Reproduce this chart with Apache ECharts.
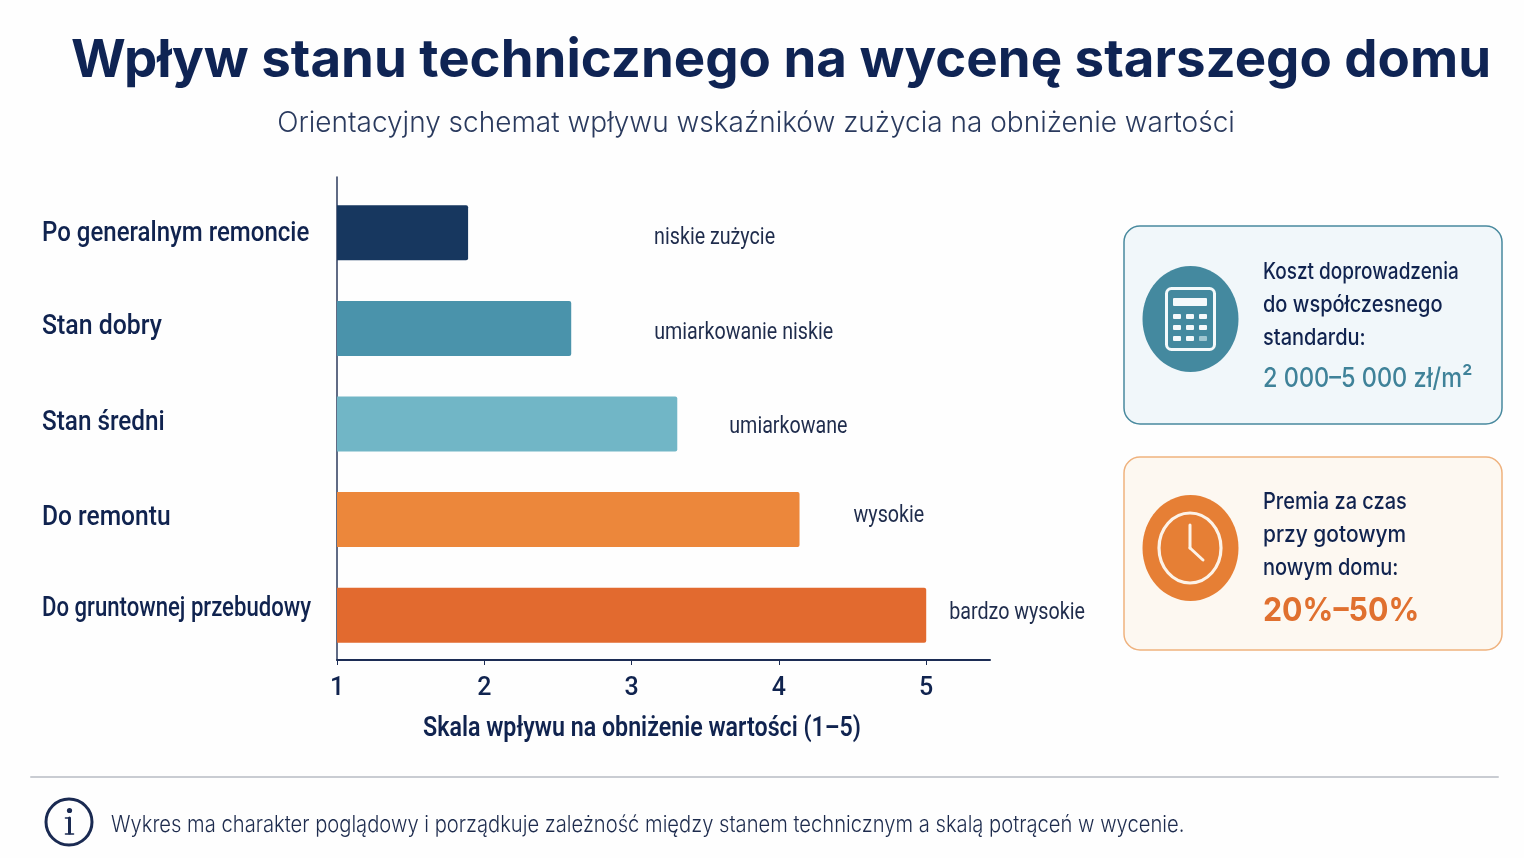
<!DOCTYPE html>
<html lang="pl">
<head>
<meta charset="utf-8">
<title>Wpływ stanu technicznego na wycenę starszego domu</title>
<script src="https://cdn.jsdelivr.net/npm/echarts@6/dist/echarts.min.js"></script>
<style>
html,body{margin:0;padding:0;background:#fff}
#chart{width:1524px;height:858px}
</style>
</head>
<body>
<div id="chart"></div>
<script>
// Condition categories, top to bottom
const categories = ['Po generalnym remoncie', 'Stan dobry', 'Stan średni', 'Do remontu', 'Do gruntownej przebudowy'];
// Impact on the 1–5 scale
const impactValues = [1.89, 2.59, 3.31, 4.14, 5];
const impactLabels = ['niskie zużycie', 'umiarkowanie niskie', 'umiarkowane', 'wysokie', 'bardzo wysokie'];
const barColors = ['#17375f', '#4a93ab', '#71b6c6', '#ec873b', '#e26a2f'];
const scaleTicks = [1, 2, 3, 4, 5];

// Gap between bar end and its description, and the description's vertical nudge
const labelGaps = [186, 83, 52, 54, 23];
const labelNudges = [5, 5, 3, -4, -2];
// How far each category label sits above its band centre, and how much it is condensed
const categoryLifts = [-1, 1, 1, 1, 6];
const categoryCondense = [0.89, 0.92, 0.9, 0.91, 0.82];

const NAVY = '#10234f';
const FONT = 'Inter, sans-serif';
const LABEL_FONT = 'Roboto, sans-serif';

function text(x, y, t, size, weight, fill, scaleX, family) {
  return {
    type: 'text', x, y, scaleX: scaleX || 1, originX: 0, originY: 0,
    style: { text: t, fontFamily: family || FONT, fontSize: size, fontWeight: weight, fill, textVerticalAlign: 'middle' }
  };
}
function rrect(x, y, w, h, r, fill, stroke, lineWidth) {
  return { type: 'rect', shape: { x, y, width: w, height: h, r }, style: { fill, stroke, lineWidth: lineWidth || 0 } };
}
function seg(x1, y1, x2, y2, stroke, lineWidth) {
  return { type: 'line', shape: { x1, y1, x2, y2 }, style: { stroke, lineWidth, lineCap: 'round' } };
}

// Calculator pictogram for the cost panel
function calculatorIcon() {
  const items = [
    { type: 'ellipse', shape: { cx: 1190.5, cy: 319, rx: 48, ry: 53 }, style: { fill: '#44899f' } },
    rrect(1166.5, 288.5, 48, 61, 5, 'transparent', '#f4f9fb', 3),
    rrect(1173, 298, 34, 8, 1, '#f4f9fb')
  ];
  [314, 325, 336].forEach((y, row) => {
    [1173, 1186, 1199].forEach((x, col) => {
      items.push(rrect(x, y, 8, 5, 1, row === 2 && col === 2 ? '#9fc6d1' : '#f4f9fb'));
    });
  });
  return items;
}

// Clock pictogram for the time-premium panel
function clockIcon() {
  return [
    { type: 'ellipse', shape: { cx: 1190.5, cy: 548, rx: 48, ry: 53 }, style: { fill: '#e67f35' } },
    { type: 'ellipse', shape: { cx: 1190, cy: 548, rx: 31, ry: 35 }, style: { fill: 'transparent', stroke: '#fdf3e8', lineWidth: 3.2 } },
    seg(1190, 525, 1190, 548, '#fdf3e8', 3),
    seg(1190, 548, 1203, 560, '#fdf3e8', 3)
  ];
}

// Condensed text beside the bars: category names on the left, descriptions past the bar ends
function renderBarTexts(params, api) {
  const i = api.value(1);
  const [barEnd, centre] = api.coord([api.value(0), i]);
  return {
    type: 'group',
    children: [
      {
        type: 'text', x: 42, y: centre - categoryLifts[i], scaleX: categoryCondense[i],
        style: { text: categories[i], fontFamily: LABEL_FONT, fontSize: 27, fontWeight: 500, fill: NAVY, verticalAlign: 'middle' }
      },
      {
        type: 'text', x: barEnd + labelGaps[i], y: centre + labelNudges[i], scaleX: 0.82,
        style: { text: impactLabels[i], fontFamily: LABEL_FONT, fontSize: 24, fontWeight: 400, fill: '#1f2c4c', verticalAlign: 'middle' }
      }
    ]
  };
}

const chart = echarts.init(document.getElementById('chart'), null, { renderer: 'canvas' });
chart.setOption({
  backgroundColor: '#fefefe',
  animation: false,
  title: [
    {
      text: 'Wpływ stanu technicznego na wycenę starszego domu',
      left: 776, top: 30, textAlign: 'center',
      textStyle: { fontFamily: FONT, fontSize: 52.8, fontWeight: 700, color: '#0f2454' }
    },
    {
      text: 'Orientacyjny schemat wpływu wskaźników zużycia na obniżenie wartości',
      left: 751, top: 105, textAlign: 'center',
      textStyle: { fontFamily: FONT, fontSize: 28, fontWeight: 300, color: '#2a3a5e' }
    }
  ],
  grid: { left: 337, top: 185, width: 653, height: 478 },
  xAxis: {
    type: 'value', min: 1, max: 5.433, offset: -3,
    axisLine: { show: true, lineStyle: { color: '#1c2c55', width: 2 } },
    axisTick: { show: true, customValues: scaleTicks, length: 5, lineStyle: { color: '#1c2c55', width: 1 } },
    axisLabel: { customValues: scaleTicks, margin: 16, fontFamily: LABEL_FONT, fontSize: 25, fontWeight: 500, color: NAVY },
    splitLine: { show: false }
  },
  yAxis: {
    type: 'category', inverse: true, data: categories,
    axisLine: { show: false },
    axisTick: { show: false },
    axisLabel: { show: false }
  },
  series: [
    {
      type: 'bar', barWidth: 55,
      data: impactValues.map((value, i) => ({
        value,
        itemStyle: { color: barColors[i], borderRadius: [0, 2, 2, 0] }
      }))
    },
    {
      type: 'custom', silent: true, clip: false,
      renderItem: renderBarTexts,
      encode: { x: 0, y: 1 },
      data: impactValues.map((value, i) => [value, i])
    }
  ],
  graphic: [
    seg(337, 177, 337, 660, '#2b3a5c', 1.5),
    text(423, 729, 'Skala wpływu na obniżenie wartości (1–5)', 27, 600, NAVY, 0.86, LABEL_FONT),
    rrect(1124, 226, 378, 198, 16, '#f1f7fa', '#48899e', 1.5),
    rrect(1124, 457, 378, 193, 16, '#fdf8f1', '#efb27e', 1.5),
    ...calculatorIcon(),
    ...clockIcon(),
    text(1263, 272, 'Koszt doprowadzenia', 23, 500, NAVY, 0.825),
    text(1263, 305, 'do współczesnego', 23, 500, NAVY, 0.87),
    text(1263, 338, 'standardu:', 23, 500, NAVY, 0.87),
    text(1263, 379, '2 000–5 000 zł/m²', 27, 500, '#3f8299', 0.87),
    text(1263, 502, 'Premia za czas', 23, 500, NAVY, 0.87),
    text(1263, 535, 'przy gotowym', 23, 500, NAVY, 0.91),
    text(1263, 568, 'nowym domu:', 23, 500, NAVY, 0.87),
    text(1263, 611, '20%–50%', 33, 700, '#e0702f', 0.92),
    seg(31, 777, 1498, 777, '#c9ccd2', 2),
    { type: 'circle', shape: { cx: 69, cy: 822, r: 23 }, style: { fill: 'transparent', stroke: '#1a2a52', lineWidth: 3 } },
    { type: 'circle', shape: { cx: 69.5, cy: 810.5, r: 2.6 }, style: { fill: '#1a2a52' } },
    seg(69.5, 818, 69.5, 833, '#1a2a52', 3),
    seg(65.5, 818, 69.5, 818, '#1a2a52', 1.6),
    seg(65.5, 834, 73.5, 834, '#1a2a52', 1.6),
    text(111, 825, 'Wykres ma charakter poglądowy i porządkuje zależność między stanem technicznym a skalą potrąceń w wycenie.', 23, 300, '#1d2b4d', 0.877)
  ]
});
</script>
</body>
</html>
